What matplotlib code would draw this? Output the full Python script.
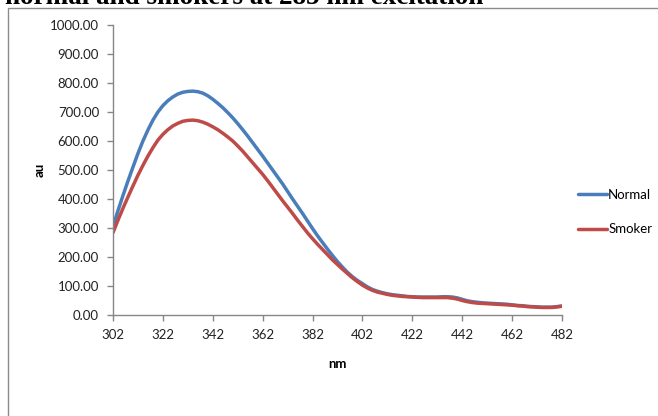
import matplotlib
matplotlib.use("Agg")
import matplotlib.pyplot as plt
from matplotlib.patches import Rectangle

wavelength = list(range(302, 483, 2))
normal = [305, 360, 412, 462, 510, 557, 600, 638, 672, 700,
          722, 739, 752, 762, 768, 771, 772, 770, 765, 756,
          744, 730, 715, 698, 680, 660, 639, 617, 594, 571,
          548, 524, 500, 476, 452, 426, 400, 375, 350, 324,
          298, 273, 250, 227, 205, 184, 165, 147, 132, 119,
          108, 97, 88, 82, 77, 73, 70, 68, 66, 64,
          63, 62, 62, 62, 62, 62, 63, 63, 62, 59,
          54, 49, 46, 44, 42, 41, 40, 39, 38, 37,
          35, 33, 32, 30, 29, 28, 27, 27, 27, 29, 31]
smoker = [284, 327, 368, 407, 445, 482, 516, 548, 577, 603,
          623, 639, 652, 661, 668, 671, 672, 670, 665, 658,
          649, 639, 627, 614, 600, 583, 565, 545, 525, 505,
          485, 463, 440, 417, 394, 372, 350, 327, 305, 283,
          263, 244, 226, 208, 190, 174, 158, 143, 128, 115,
          103, 93, 85, 79, 75, 71, 68, 66, 64, 63,
          62, 61, 60, 60, 60, 60, 60, 60, 58, 55,
          50, 46, 43, 41, 40, 39, 38, 37, 36, 35,
          34, 32, 31, 29, 28, 27, 26, 26, 26, 28, 30]
series_names = ["Normal", "Smoker"]
x_ticks = [302, 322, 342, 362, 382, 402, 422, 442, 462, 482]
y_ticks = [0, 100, 200, 300, 400, 500, 600, 700, 800, 900, 1000]
title_text = "normal and smokers at 285 nm excitation"

W, H = 658, 416
fig = plt.figure(figsize=(W / 100, H / 100), dpi=100)
fig.patch.set_facecolor("white")

# chart area border
fig.patches.append(Rectangle((8 / W, -0.05), 1.2, 1 - 8 / H + 0.05, transform=fig.transFigure,
                             fill=False, edgecolor="#8c8c8c", linewidth=1.0, zorder=0))

# title (cut off at the top edge, as in the reference screenshot)
fig.text(5 / W, 1 - 4.5 / H, title_text, fontsize=19.5, fontweight="bold",
         family="Liberation Serif", ha="left", va="baseline")

ax = fig.add_axes([113 / W, 1 - 315 / H, (562 - 113) / W, (315 - 25) / H])
ax.plot(wavelength, normal, color="#4a7ebb", lw=2.5, label=series_names[0], solid_capstyle="round")
ax.plot(wavelength, smoker, color="#be4b48", lw=2.5, label=series_names[1], solid_capstyle="round")

ax.set_xlim(302, 482)
ax.set_ylim(0, 1000)
ax.set_xticks(x_ticks)
ax.set_xticklabels([str(t) for t in x_ticks])
ax.set_yticks(y_ticks)
ax.set_yticklabels([f"{t:.2f}" for t in y_ticks])

for lab in ax.get_xticklabels() + ax.get_yticklabels():
    lab.set_fontfamily("Lato")
    lab.set_fontsize(9.5)
    lab.set_color("#222222")

for s in ["top", "right"]:
    ax.spines[s].set_visible(False)
for s in ["left", "bottom"]:
    ax.spines[s].set_color("#868686")
    ax.spines[s].set_linewidth(1.0)
ax.tick_params(axis="both", direction="out", length=4, width=1.0, color="#868686")
ax.tick_params(axis="x", pad=6)
ax.tick_params(axis="y", pad=6)

ax.set_xlabel("nm", fontsize=9.5, fontweight="bold", family="Lato", labelpad=12)
ax.set_ylabel("au", fontsize=9.5, fontweight="bold", family="Lato", labelpad=3)

leg = ax.legend(loc="center left", bbox_to_anchor=(566 / W, 1 - 212 / H),
                bbox_transform=fig.transFigure, frameon=False, handlelength=2.2,
                handletextpad=0.1, labelspacing=1.7, prop=dict(family="Lato", size=9.5))

fig.savefig("out.png", dpi=100, facecolor="white")
